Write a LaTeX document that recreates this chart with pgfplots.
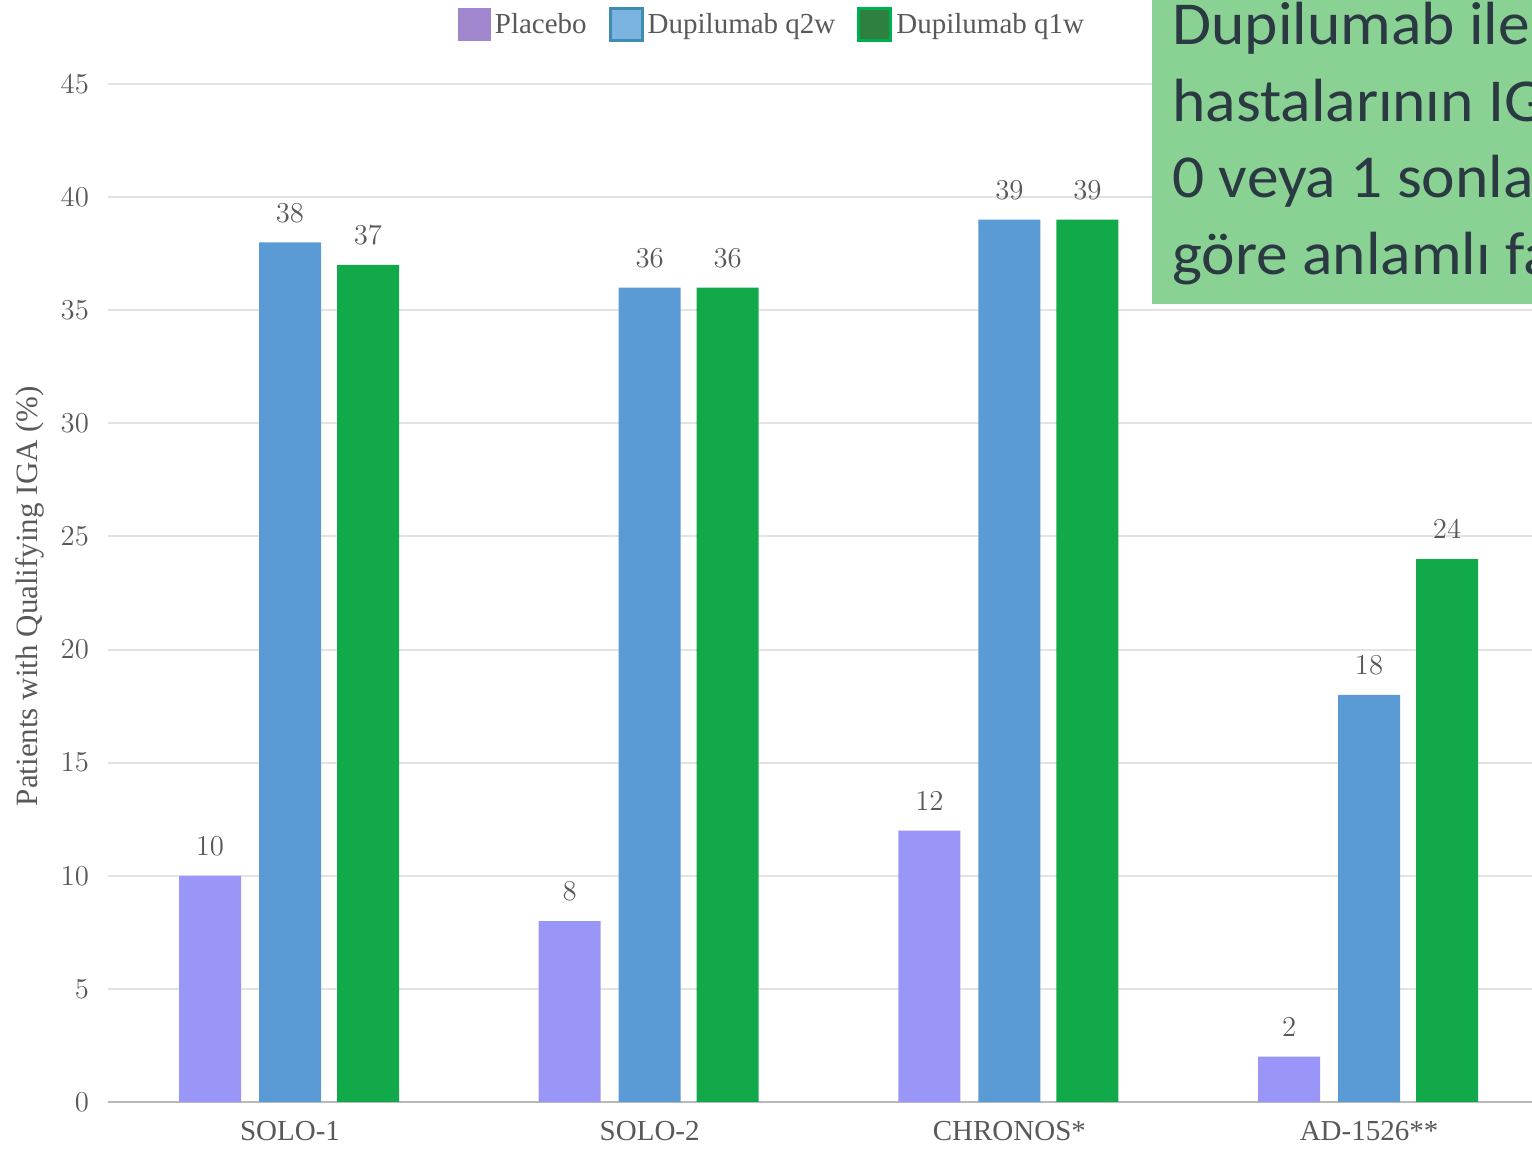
\documentclass[border=0pt]{standalone}
\usepackage{pgfplots}
\pgfplotsset{compat=1.18}
\usepackage{fontspec}
\setmainfont{Liberation Serif}
\newfontfamily\calibri{Carlito}
\definecolor{plac}{RGB}{154,150,248}
\definecolor{qtw}{RGB}{91,155,213}
\definecolor{qow}{RGB}{18,169,75}
\definecolor{legplac}{RGB}{160,134,204}
\definecolor{legqtw}{RGB}{125,179,224}
\definecolor{legqtwb}{RGB}{61,141,179}
\definecolor{legqow}{RGB}{46,128,64}
\definecolor{legqowb}{RGB}{0,176,80}
\definecolor{boxg}{RGB}{138,210,147}
\definecolor{boxt}{RGB}{43,58,66}
\definecolor{txtg}{RGB}{89,89,89}
\begin{document}
\begin{tikzpicture}
\useasboundingbox (0,0) rectangle (766pt,577pt);
\clip (0,0) rectangle (766pt,577pt);
\begin{axis}[
  at={(54pt,26pt)}, anchor=south west,
  scale only axis, width=712pt, height=509pt,
  xmin=-0.506, xmax=3.453, ymin=0, ymax=45,
  ytick={0,5,...,45},
  xtick={0,1,2,3},
  xticklabels={SOLO-1,SOLO-2,CHRONOS*,AD-1526**},
  major tick length=0pt,
  axis x line*=bottom, axis y line*=left,
  separate axis lines,
  x axis line style={draw=gray!55, line width=1pt, -},
  y axis line style={draw=none},
  ymajorgrids, grid style={line width=1pt, draw=gray!22},
  tick label style={font=\fontsize{14.5}{16}\selectfont, text=txtg},
  yticklabel style={xshift=-6pt},
  xticklabel style={yshift=-6pt},
  ylabel={Patients with Qualifying IGA (\%)},
  every axis y label/.style={at={(axis description cs:-0.0548,0.497)}, rotate=90, anchor=center,
    font=\fontsize{15.5}{17}\selectfont, text=txtg},
  ybar, bar width=31pt,
  nodes near coords,
  every node near coord/.append style={font=\fontsize{14.5}{16}\selectfont, text=txtg, yshift=6.5pt},
  legend columns=-1,
  legend style={at={(0.467,1.058)}, anchor=center, draw=none, fill=none,
    font=\fontsize{14.5}{16}\selectfont, text=txtg,
    /tikz/every even column/.append style={column sep=9pt}},
  legend image code/.code={\draw[#1] (0pt,-8pt) rectangle (16pt,8pt);},
]
\addplot[forget plot, fill=plac, draw=none, bar shift=-40pt] coordinates {(0,10) (1,8) (2,12) (3,2)};
\addplot[forget plot, fill=qtw, draw=none, bar shift=0pt] coordinates {(0,38) (1,36) (2,39) (3,18)};
\addplot[forget plot, fill=qow, draw=none, bar shift=39pt] coordinates {(0,37) (1,36) (2,39) (3,24)};
\addlegendimage{fill=legplac, draw=legplac, line width=0.5pt}
\addlegendentry{Placebo}
\addlegendimage{fill=legqtw, draw=legqtwb, line width=1.5pt}
\addlegendentry{Dupilumab q2w}
\addlegendimage{fill=legqow, draw=legqowb, line width=1.5pt}
\addlegendentry{Dupilumab q1w}
\end{axis}
\fill[boxg] (576pt,425pt) rectangle (770pt,580pt);
\begin{scope}[every node/.style={anchor=base west, inner sep=0pt, text=boxt, xscale=1.04, font=\calibri\fontsize{30.5}{38}\selectfont}]
\node at (586pt,554.5pt) {Dupilumab ile};
\node at (586pt,516pt) {hastalarının IG};
\node at (586pt,478pt) {0 veya 1 sonla};
\node at (586pt,439.5pt) {göre anlamlı fa};
\end{scope}
\end{tikzpicture}
\end{document}
